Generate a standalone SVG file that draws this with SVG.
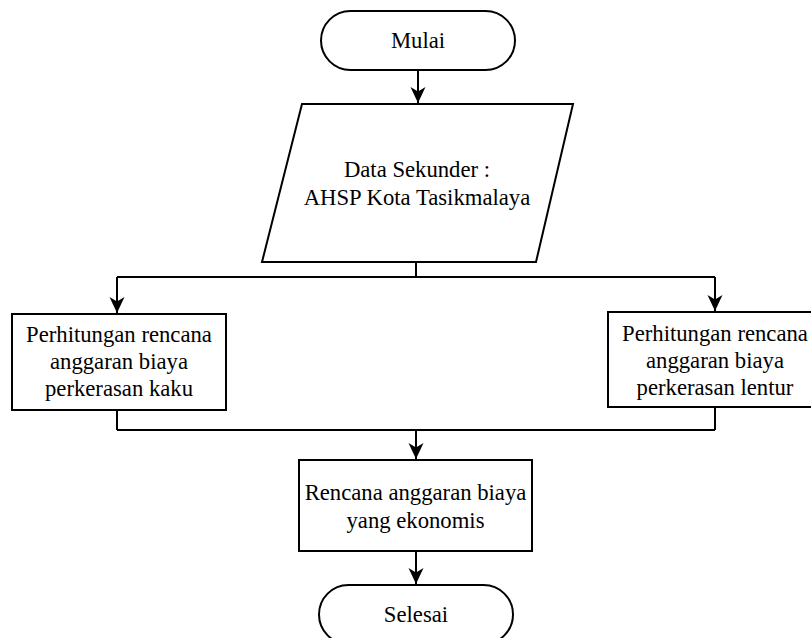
<svg xmlns="http://www.w3.org/2000/svg" width="811" height="638" viewBox="0 0 811 638">
  <style>
    .shape { fill: #ffffff; stroke: #000000; stroke-width: 2; }
    .edge { fill: none; stroke: #000000; stroke-width: 2; }
    .label { font-family: "Liberation Serif", "Times New Roman", serif; font-size: 22.7px; fill: #000000; text-anchor: middle; }
  </style>
  <defs>
    <marker id="arrow" viewBox="0 0 16 16" refX="16" refY="8" markerWidth="16" markerHeight="16" markerUnits="userSpaceOnUse" orient="auto">
      <path d="M0,0.5 L16,8 L0,15.5 L4.5,8 Z" fill="#000000"/>
    </marker>
  </defs>
  <rect width="811" height="638" fill="#ffffff"/>

  <g id="connectors">
    <path class="edge" d="M418,70 V103" marker-end="url(#arrow)"/>
    <path class="edge" d="M416,262 V277"/>
    <path class="edge" d="M117,277 H715"/>
    <path class="edge" d="M117,277 V313" marker-end="url(#arrow)"/>
    <path class="edge" d="M715,277 V311" marker-end="url(#arrow)"/>
    <path class="edge" d="M117,410 V430"/>
    <path class="edge" d="M715,407 V430"/>
    <path class="edge" d="M117,430 H715"/>
    <path class="edge" d="M416,430 V459" marker-end="url(#arrow)"/>
    <path class="edge" d="M416,551 V584" marker-end="url(#arrow)"/>
  </g>

  <g id="mulai">
    <rect class="shape" x="321" y="11" width="194" height="59" rx="29.5" ry="29.5"/>
    <text class="label" x="418" y="48">Mulai</text>
  </g>

  <g id="data-sekunder">
    <polygon class="shape" points="302,104 573,104 536,262 262,262"/>
    <text class="label" x="417" y="177">Data Sekunder :</text>
    <text class="label" x="417" y="205">AHSP Kota Tasikmalaya</text>
  </g>

  <g id="perkerasan-kaku">
    <rect class="shape" x="12" y="314" width="214" height="96"/>
    <text class="label" x="119" y="342">Perhitungan rencana</text>
    <text class="label" x="119" y="369">anggaran biaya</text>
    <text class="label" x="119" y="396">perkerasan kaku</text>
  </g>

  <g id="perkerasan-lentur">
    <rect class="shape" x="608" y="312" width="214" height="95"/>
    <text class="label" x="715" y="341">Perhitungan rencana</text>
    <text class="label" x="715" y="368">anggaran biaya</text>
    <text class="label" x="715" y="395">perkerasan lentur</text>
  </g>

  <g id="rencana-ekonomis">
    <rect class="shape" x="299" y="460" width="233" height="91"/>
    <text class="label" x="415.5" y="500">Rencana anggaran biaya</text>
    <text class="label" x="415.5" y="527.5">yang ekonomis</text>
  </g>

  <g id="selesai">
    <rect class="shape" x="319" y="585" width="194" height="59" rx="29.5" ry="29.5"/>
    <text class="label" x="416" y="622">Selesai</text>
  </g>
</svg>
